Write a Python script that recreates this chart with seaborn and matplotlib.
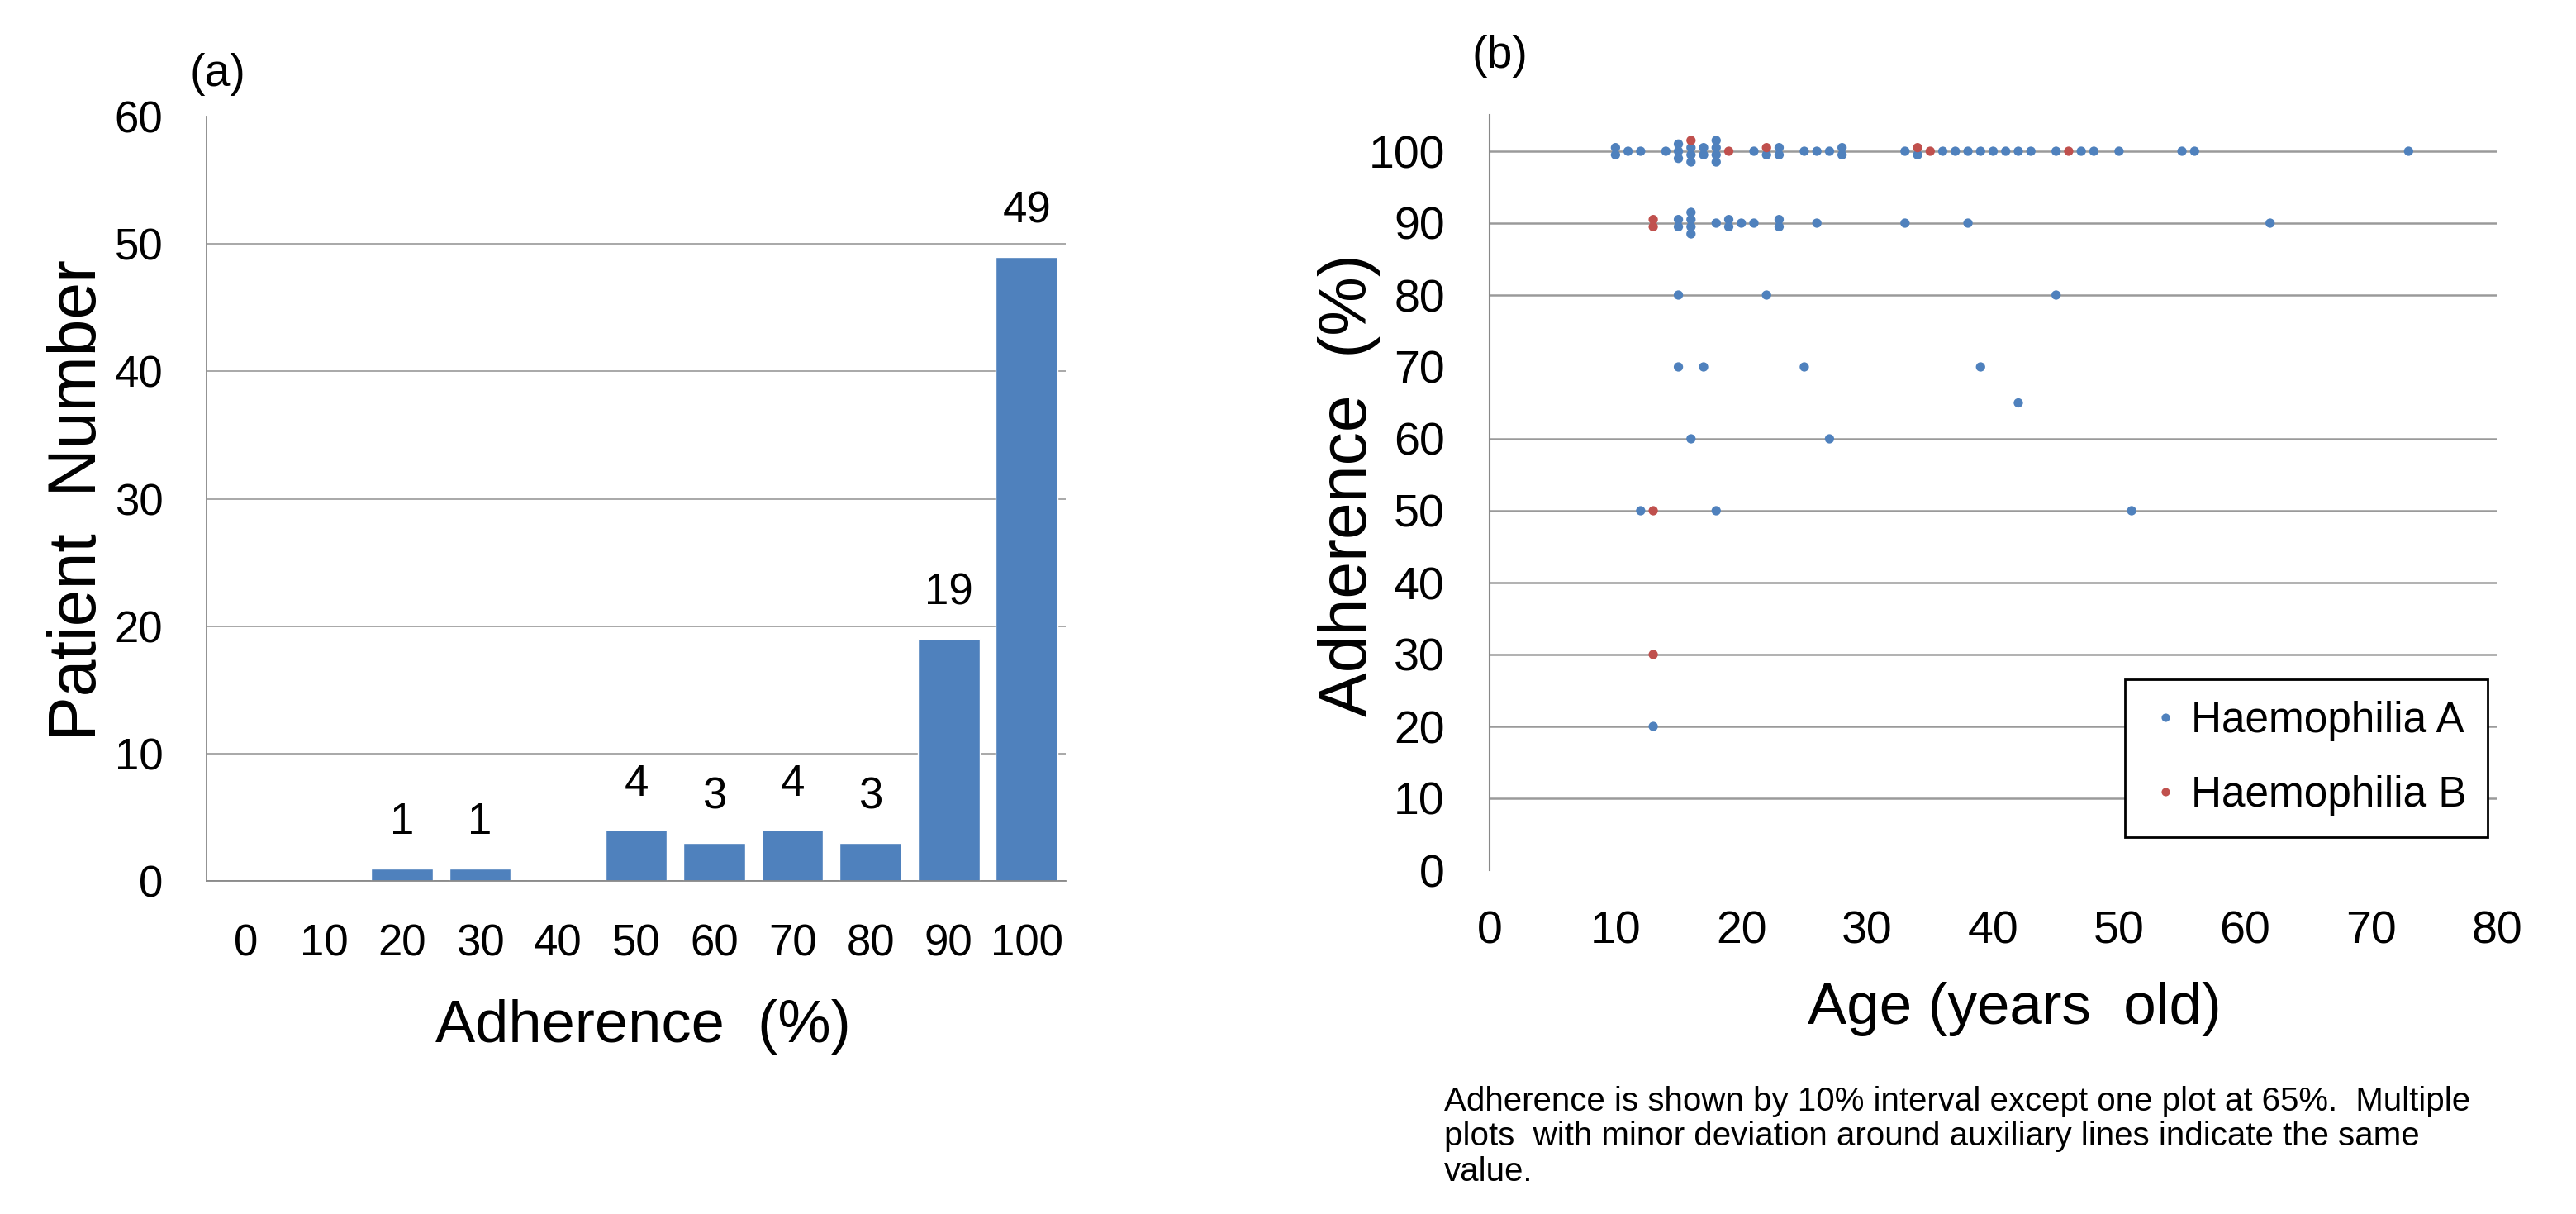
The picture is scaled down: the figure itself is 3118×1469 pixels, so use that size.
import numpy as np
import pandas as pd
import matplotlib
matplotlib.use('Agg')
import matplotlib.pyplot as plt
import seaborn as sns

# ------------------------------------------------------------
# data - panel (a): patient number per adherence level
# ------------------------------------------------------------
adherence_bins = ['0', '10', '20', '30', '40', '50', '60', '70', '80', '90', '100']
patient_counts = [0, 0, 1, 1, 0, 4, 3, 4, 3, 19, 49]

# ------------------------------------------------------------
# data - panel (b): patient ages per adherence level
# ------------------------------------------------------------
ageA_100 = [10, 10, 11, 12, 14, 15, 15, 15, 16, 16, 16, 17, 17, 18, 18, 18, 18,
            21, 22, 23, 23, 25, 26, 27, 28, 28, 33, 34, 36, 37, 38, 39, 40, 41,
            42, 43, 45, 47, 48, 50, 55, 56, 73]
ageA_90 = [15, 15, 16, 16, 16, 16, 18, 19, 19, 20, 21, 23, 23, 26, 33, 38, 62]
ageA_80 = [15, 22, 45]
ageA_70 = [15, 17, 25, 39]
ageA_65 = [42]
ageA_60 = [16, 27]
ageA_50 = [12, 18, 51]
ageA_20 = [13]

ageB_100 = [16, 19, 22, 34, 35, 46]
ageB_90 = [13, 13]
ageB_50 = [13]
ageB_30 = [13]

BLUE = '#4F81BD'
RED = '#C0504D'
GRAY = '#9A9A9A'
STEP = 1.0   # vertical spread of repeated values

series = [('Haemophilia A', 100, ageA_100), ('Haemophilia A', 90, ageA_90),
          ('Haemophilia A', 80, ageA_80), ('Haemophilia A', 70, ageA_70),
          ('Haemophilia A', 65, ageA_65), ('Haemophilia A', 60, ageA_60),
          ('Haemophilia A', 50, ageA_50), ('Haemophilia A', 20, ageA_20),
          ('Haemophilia B', 100, ageB_100), ('Haemophilia B', 90, ageB_90),
          ('Haemophilia B', 50, ageB_50), ('Haemophilia B', 30, ageB_30)]
rows = []
for grp, adh, ages in series:
    rows += [(grp, adh, a) for a in ages]
df = pd.DataFrame(rows, columns=['group', 'adh', 'age'])

# repeated points are spread a little around the line (B on top)
df['order'] = (df['group'] == 'Haemophilia A').astype(int)
df = df.sort_values(['age', 'adh', 'order'], kind='stable')
df['k'] = df.groupby(['age', 'adh']).cumcount()
df['n'] = df.groupby(['age', 'adh'])['age'].transform('size')
df['y'] = df['adh'] + ((df['n'] - 1) / 2 - df['k']) * STEP
df = df.sort_values('order', ascending=False, kind='stable')

# ------------------------------------------------------------
# figure
# ------------------------------------------------------------
sns.set_style('white')
plt.rcParams['font.family'] = ['Liberation Sans', 'DejaVu Sans']
plt.rcParams['text.color'] = 'black'
plt.rcParams['xtick.labelcolor'] = 'black'
plt.rcParams['ytick.labelcolor'] = 'black'

W, H = 3118, 1469
fig = plt.figure(figsize=(W / 100, H / 100), dpi=100)

def fx(px):
    return px / W

def fy(px):
    return 1 - px / H

# --- (a) bar chart ---
ax1 = fig.add_axes([fx(250), fy(1066), fx(1290 - 250), (1066 - 141) / H])
sns.barplot(x=adherence_bins, y=patient_counts, color=BLUE, saturation=1,
            width=0.79, ax=ax1)
ax1.set_xlim(-0.5, 10.5)
ax1.set_ylim(0, 60)
ax1.set_yticks(range(0, 61, 10))
ax1.set_xticks(np.arange(-0.5, 11, 1), minor=True)
ax1.grid(axis='y', color=GRAY, lw=1.2)
ax1.set_axisbelow(True)
for s in ['top', 'right']:
    ax1.spines[s].set_visible(False)
for s in ['left', 'bottom']:
    ax1.spines[s].set_color('#888888')
    ax1.spines[s].set_linewidth(1.3)
ax1.tick_params(axis='x', which='major', length=0, pad=37, labelsize=38)
ax1.tick_params(axis='x', which='minor', length=14, width=1.3, color='#888888',
                direction='out')
ax1.tick_params(axis='y', length=8, width=1.2, color='#888888', pad=30,
                labelsize=38, direction='out')
ax1.set_xlabel('')
ax1.set_ylabel('')
ax1.bar_label(ax1.containers[0],
              labels=[str(v) if v > 0 else '' for v in patient_counts],
              padding=22, fontsize=38)

fig.text(fx(263), fy(90), '(a)', fontsize=40, ha='center', va='center')
fig.text(fx(95), fy(605), 'Patient  Number', fontsize=58, rotation=90,
         ha='center', va='center')
fig.text(fx(778), fy(1242), 'Adherence  (%)', fontsize=52, ha='center', va='center')

# --- (b) scatter ---
ax2 = fig.add_axes([fx(1803), fy(1053), fx(3022 - 1803), (1053 - 139.5) / H])
sns.scatterplot(data=df, x='age', y='y', hue='group',
                palette={'Haemophilia A': BLUE, 'Haemophilia B': RED},
                hue_order=['Haemophilia A', 'Haemophilia B'],
                s=66, edgecolor='none', linewidth=0, ax=ax2, zorder=3)
ax2.set_xlim(0, 80)
ax2.set_ylim(0, 105)
ax2.set_xticks(range(0, 81, 10))
ax2.set_yticks(range(0, 101, 10))
ax2.grid(axis='y', color=GRAY, lw=1.8)
ax2.set_axisbelow(True)
gl = ax2.yaxis.get_gridlines()
gl[0].set_visible(False)
gl[7].set_visible(False)   # no auxiliary line at 70
for s in ['top', 'right', 'bottom']:
    ax2.spines[s].set_visible(False)
ax2.spines['left'].set_color('#888888')
ax2.spines['left'].set_linewidth(1.5)
ax2.tick_params(axis='x', length=13, width=1.3, color='#888888', pad=22,
                labelsize=40, direction='out')
ax2.tick_params(axis='y', length=5, width=1.3, color='#888888', pad=34,
                labelsize=40, direction='out')
ax2.set_xlabel('')
ax2.set_ylabel('')

handles, labels = ax2.get_legend_handles_labels()
leg = ax2.legend(handles=handles, labels=labels, loc='lower left',
                 bbox_to_anchor=(0.631, 0.044), fontsize=37, markerscale=0.9,
                 frameon=True, fancybox=False, edgecolor='black', framealpha=1,
                 borderpad=0.5, labelspacing=0.8, handletextpad=0.15,
                 handlelength=0.9, borderaxespad=0)
leg.get_frame().set_linewidth(2)

fig.text(fx(1815), fy(68), '(b)', fontsize=40, ha='center', va='center')
fig.text(fx(1633), fy(587), 'Adherence  (%)', fontsize=58, rotation=90,
         ha='center', va='center')
fig.text(fx(2438), fy(1221), 'Age (years  old)', fontsize=51, ha='center',
         va='center')

fig.text(fx(1748), fy(1314),
         'Adherence is shown by 10% interval except one plot at 65%.  Multiple\n'
         'plots  with minor deviation around auxiliary lines indicate the same\n'
         'value.', fontsize=29, ha='left', va='top', linespacing=1.15)

fig.savefig('out.png', dpi=100)
